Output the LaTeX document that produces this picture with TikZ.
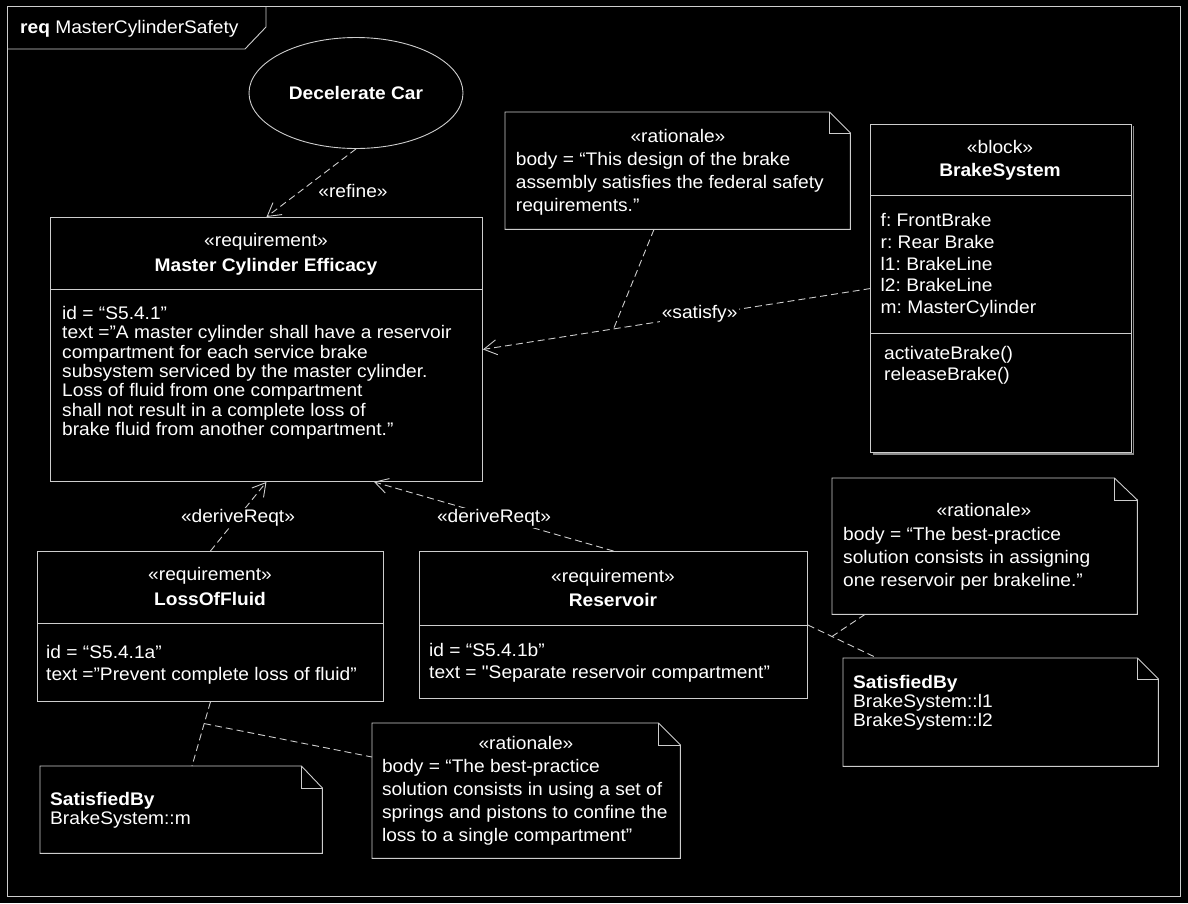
\documentclass[tikz,border=0pt]{standalone}
\usepackage{fontspec}
\setmainfont{Liberation Sans}[FakeStretch=1.053]
\newfontfamily\rawq{Liberation Sans}[FakeStretch=1.053]
\frenchspacing
\usetikzlibrary{arrows.meta,calc,shapes.geometric}
\definecolor{linegray}{RGB}{205,205,205}
\definecolor{shadowgray}{RGB}{140,140,140}
\newcommand{\fs}[1]{\fontsize{18.2}{#1}\selectfont}
\tikzset{
  ln/.style={draw=linegray, line width=0.9pt},
  dsh/.style={ln, dash pattern=on 7pt off 4pt},
  opentip/.style={-{Straight Barb[length=13pt,width=15pt,line width=0.9pt]}},
  box/.style={ln, rectangle, inner sep=0pt, anchor=north west},
  holder/.style={rectangle, inner sep=0pt, anchor=north west},
  txt/.style={text=white, inner sep=0pt, font=\fs{19.4}},
  bodytxt/.style={txt, align=left, anchor=base west},
  ctrtxt/.style={txt, anchor=base},
  boldtxt/.style={txt, anchor=base, font=\fs{19.4}\bfseries},
  lbl/.style={txt, fill=black, inner sep=1.5pt, anchor=base},
}
% note outline with folded corner: #1 node name, #2 fold width, #3 fold height
\newcommand{\notedraw}[3]{%
  \draw[ln] (#1.south west) -- (#1.north west) -- ([xshift=-#2pt]#1.north east)
    -- ([yshift=-#3pt]#1.north east) -- (#1.south east) -- cycle;
  \draw[ln] ([xshift=-#2pt]#1.north east) -- ([xshift=-#2pt,yshift=-#3pt]#1.north east)
    -- ([yshift=-#3pt]#1.north east);
}
\begin{document}
\begin{tikzpicture}[x=1pt,y=-1pt]
\fill[black] (0,0) rectangle (1188,903);
\useasboundingbox (0,0) rectangle (1188,903);

% frame
\node[box, minimum width=1173pt, minimum height=890pt] (frame) at (7,6) {};
\draw[ln] ([yshift=-43pt]frame.north west) -- ++(238,0) -- ++(21,-22) -- ([xshift=259pt]frame.north west);
\node[txt, anchor=base west] (title) at (20,33.3) {\textbf{req} MasterCylinderSafety};

% Decelerate Car
\node[ln, ellipse, inner sep=0pt, minimum width=214pt, minimum height=111pt,
      text=white, font=\fs{19.4}\bfseries] (dc) at (356,93) {Decelerate Car};

% Master Cylinder Efficacy
\node[box, minimum width=432pt, minimum height=264pt] (mce) at (50,217) {};
\draw[ln] ([yshift=-72pt]mce.north west) -- ([yshift=-72pt]mce.north east);
\node[ctrtxt] (mcest) at (266,246.7) {«requirement»};
\node[boldtxt] (mcename) at (266,271) {Master Cylinder Efficacy};
\node[bodytxt, font=\fs{19.35}] (mcebody) at (62,435.4) {id = “S5.4.1”\\
text =”A master cylinder shall have a reservoir\\
compartment for each service brake\\
subsystem serviced by the master cylinder.\\
Loss of fluid from one compartment\\
shall not result in a complete loss of\\
brake fluid from another compartment.”};

% Rationale 1
\node[holder, minimum width=345pt, minimum height=117pt] (r1) at (505,112) {};
\notedraw{r1}{21}{21}
\node[ctrtxt] (r1st) at (678,142.7) {«rationale»};
\node[bodytxt, font=\fs{23.2}] (r1body) at (515.7,211.7) {body = “This design of the brake\\
assembly satisfies the federal safety\\
requirements.”};

% BrakeSystem block
\node[holder, minimum width=261pt, minimum height=328pt] (bs) at (870.5,124.3) {};
\draw[shadowgray, line width=1.4pt] ([xshift=1.4pt,yshift=-2pt]bs.north east) -- ([xshift=1.4pt,yshift=-1.4pt]bs.south east) -- ([xshift=2pt,yshift=-1.4pt]bs.south west);
\draw[ln] (bs.south west) rectangle (bs.north east);
\draw[ln] ([yshift=-70.7pt]bs.north west) -- ([yshift=-70.7pt]bs.north east);
\draw[ln] ([yshift=-209pt]bs.north west) -- ([yshift=-209pt]bs.north east);
\node[ctrtxt] (bsst) at (1000,153.3) {«block»};
\node[boldtxt] (bsname) at (1000,176.7) {BrakeSystem};
\node[bodytxt, font=\fs{21.7}] (bsattr) at (880.5,313.5) {f: FrontBrake\\
r: Rear Brake\\
l1: BrakeLine\\
l2: BrakeLine\\
m: MasterCylinder};
\node[bodytxt, font=\fs{21.7}] (bsops) at (884,380.7) {activateBrake()\\
releaseBrake()};

% LossOfFluid
\node[box, minimum width=346pt, minimum height=150pt] (lof) at (37,551) {};
\draw[ln] ([yshift=-72pt]lof.north west) -- ([yshift=-72pt]lof.north east);
\node[ctrtxt] (lofst) at (210,580.7) {«requirement»};
\node[boldtxt] (lofname) at (210,605) {LossOfFluid};
\node[bodytxt, font=\fs{21.7}] (lofbody) at (46,680) {id = “S5.4.1a”\\
text =”Prevent complete loss of fluid”};

% Reservoir
\node[box, minimum width=388pt, minimum height=147pt] (res) at (419,551) {};
\draw[ln] ([yshift=-74pt]res.north west) -- ([yshift=-74pt]res.north east);
\node[ctrtxt] (resst) at (613,582) {«requirement»};
\node[boldtxt] (resname) at (613,606.7) {Reservoir};
\node[bodytxt, font=\fs{21.7}] (resbody) at (429,678.4) {id = “S5.4.1b”\\
text = {\rawq"}Separate reservoir compartment”};

% Rationale 2 (right)
\node[holder, minimum width=305pt, minimum height=136pt] (r2) at (832,478) {};
\notedraw{r2}{23}{22}
\node[ctrtxt] (r2st) at (984,516.7) {«rationale»};
\node[bodytxt, font=\fs{23}] (r2body) at (843,586.7) {body = “The best-practice\\
solution consists in assigning\\
one reservoir per brakeline.”};

% SatisfiedBy 2
\node[holder, minimum width=315pt, minimum height=108pt] (sb2) at (843,658) {};
\notedraw{sb2}{21}{21}
\node[bodytxt, font=\fs{19}] (sb2body) at (853,726) {\textbf{SatisfiedBy}\\
BrakeSystem::l1\\
BrakeSystem::l2};

% SatisfiedBy 1
\node[holder, minimum width=282pt, minimum height=87pt] (sb1) at (40,766) {};
\notedraw{sb1}{21}{22}
\node[bodytxt, font=\fs{19.5}] (sb1body) at (50,824.5) {\textbf{SatisfiedBy}\\
BrakeSystem::m};

% Rationale 3
\node[holder, minimum width=308pt, minimum height=135pt] (r3) at (372,723) {};
\notedraw{r3}{22}{22}
\node[ctrtxt] (r3st) at (526,749.3) {«rationale»};
\node[bodytxt, font=\fs{23}] (r3body) at (381.8,841) {body = “The best-practice\\
solution consists in using a set of\\
springs and pistons to confine the\\
loss to a single compartment”};

% ---------- connectors ----------
% refine
\draw[dsh, opentip] (dc.south) -- (mce.north);
\node[lbl] (reflbl) at (353,197.5) {«refine»};

% satisfy
\draw[dsh, opentip] (bs.west) -- (mce.east);
\coordinate (sj) at ($(bs.west)!0.663!(mce.east)$);
\draw[dsh] ([xshift=149pt]r1.south west) -- (sj);
\node[lbl] (satlbl) at (699.6,318) {«satisfy»};

% deriveReqt
\draw[dsh, opentip] (lof.north) -- (mce.south);
\draw[dsh, opentip] (res.north) -- ([xshift=324pt]mce.south west);
\node[lbl] (der1) at (238,522.7) {«deriveReqt»};
\node[lbl] (der2) at (494,522.7) {«deriveReqt»};

% LossOfFluid notes
\draw[dsh] (lof.south) -- ([xshift=152pt]sb1.north west);
\coordinate (lj) at ($(lof.south)!0.338!([xshift=152pt]sb1.north west)$);
\draw[dsh] (lj) -- ([yshift=-34pt]r3.north west);

% Reservoir notes
\draw[dsh] ([yshift=-74pt]res.north east) -- ([xshift=34pt]sb2.north west);
\coordinate (rj) at ($([yshift=-74pt]res.north east)!0.348!([xshift=34pt]sb2.north west)$);
\draw[dsh] ([xshift=33pt]r2.south west) -- (rj);
\end{tikzpicture}
\end{document}
